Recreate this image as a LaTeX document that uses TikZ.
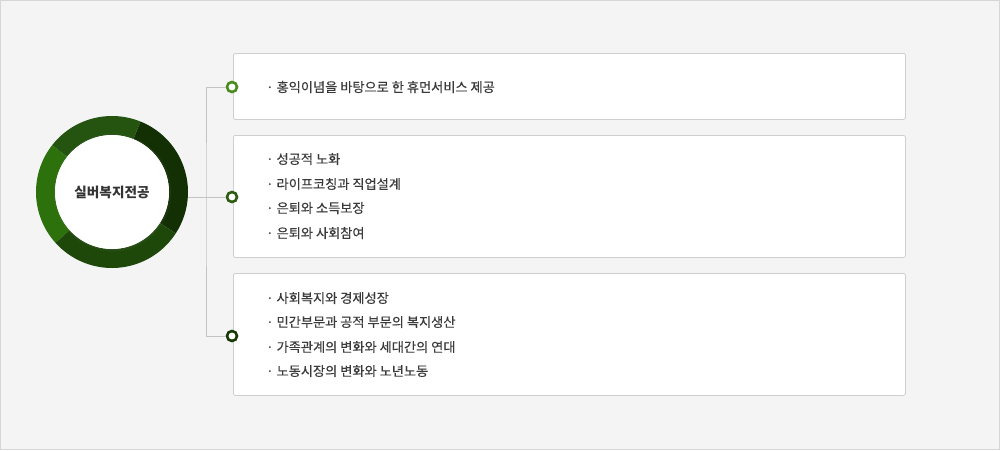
\documentclass[tikz,border=0pt]{standalone}
\usepackage{fontspec}
\newfontfamily\kr{Noto Sans CJK KR}
\newfontfamily\krm[FakeBold=0.35]{Noto Sans CJK KR}
\usetikzlibrary{shadows}
\definecolor{bgc}{HTML}{F4F4F4}
\definecolor{frame}{HTML}{D6D6D6}
\definecolor{boxline}{HTML}{CFCFCF}
\definecolor{conn}{HTML}{C4C4C4}
\definecolor{txt}{HTML}{3A3A3A}
\definecolor{ttl}{HTML}{333333}
\definecolor{segR}{HTML}{132F04}
\definecolor{segT}{HTML}{245410}
\definecolor{segL}{HTML}{2C710B}
\definecolor{segB}{HTML}{1E480A}
\definecolor{dotA}{HTML}{4B8A1F}
\definecolor{dotB}{HTML}{2C5C10}
\definecolor{dotC}{HTML}{183805}
\tikzset{
  itembox/.style={draw=boxline, fill=white, rounded corners=2pt, line width=0.8pt, minimum width=672pt, inner sep=0pt, anchor=north west},
  item/.style={anchor=west, inner sep=0pt, font=\krm\fontsize{13.2}{15}\selectfont, text=txt},
  dotnode/.style={circle, draw=#1, fill=white, line width=2.6pt, minimum size=10pt, inner sep=0pt},
  connline/.style={draw=conn, line width=0.8pt},
}
\begin{document}
\begin{tikzpicture}[x=1pt,y=-1pt]
\useasboundingbox (0,0) rectangle (1000,450);
\fill[bgc, draw=frame, line width=1pt] (0.5,0.5) rectangle (999.5,449.5);

% boxes
\node[itembox, minimum height=66pt] (b1) at (233,53) {};
\node[itembox, minimum height=122pt] (b2) at (233,135) {};
\node[itembox, minimum height=122pt] (b3) at (233,273) {};

% ring
\begin{scope}[shift={(112,192)}, yscale=-1]
  \fill[segR] (-33:76) arc (-33:68:76) -- (68:57) arc (68:-33:57) -- cycle;
  \fill[segT] (68:76) arc (68:142:76) -- (142:57) arc (142:68:57) -- cycle;
  \fill[segL] (142:76) arc (142:222:76) -- (222:57) arc (222:142:57) -- cycle;
  \fill[segB] (222:76) arc (222:327:76) -- (327:57) arc (327:222:57) -- cycle;
\end{scope}
\node[circle, fill=white, minimum size=114pt, inner sep=0pt,
      circular drop shadow={shadow xshift=0pt, shadow yshift=0pt, shadow scale=1.05, opacity=0.35},
      font=\kr\bfseries\fontsize{13.6}{15}\selectfont, text=ttl] (c) at (112,192) {실버복지전공};
\coordinate (ce) at (188,197);

% dots
\node[dotnode=dotA] (d1) at (232,87) {};
\node[dotnode=dotB] (d2) at (232,197) {};
\node[dotnode=dotC] (d3) at (232,336) {};
\coordinate (j) at (206,197);

\draw[connline] (ce) -- (d2);
\draw[connline] (d1) -| (j) |- (d3);

% texts
\node[item] (t1) at (266,87) {·\hspace{3pt}홍익이념을 바탕으로 한 휴먼서비스 제공};

\node[item] (t2) at (266,159) {·\hspace{3pt}성공적 노화};
\node[item] (t3) at (266,184) {·\hspace{3pt}라이프코칭과 직업설계};
\node[item] (t4) at (266,208) {·\hspace{3pt}은퇴와 소득보장};
\node[item] (t5) at (266,233) {·\hspace{3pt}은퇴와 사회참여};

\node[item] (t6) at (266,298) {·\hspace{3pt}사회복지와 경제성장};
\node[item] (t7) at (266,322) {·\hspace{3pt}민간부문과 공적 부문의 복지생산};
\node[item] (t8) at (266,347) {·\hspace{3pt}가족관계의 변화와 세대간의 연대};
\node[item] (t9) at (266,371) {·\hspace{3pt}노동시장의 변화와 노년노동};
\end{tikzpicture}
\end{document}
